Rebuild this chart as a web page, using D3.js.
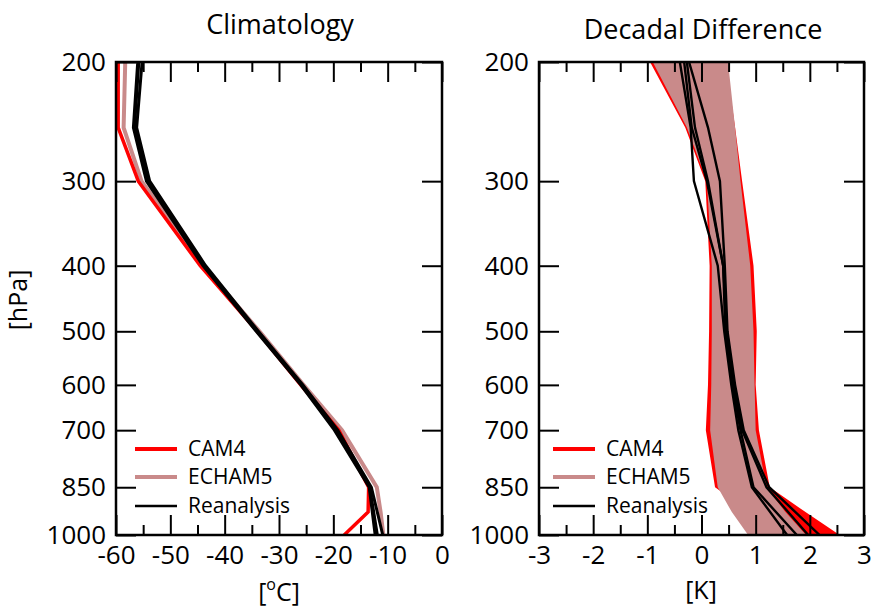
<!DOCTYPE html>
<html>
<head>
<meta charset="utf-8">
<script src="https://cdn.jsdelivr.net/npm/d3@7"></script>
<style>
  body { margin: 0; background: #fff; }
  text { font-family: "Open Sans", sans-serif; }
</style>
</head>
<body>
<script>
// pressure levels (hPa)
const levels = [200, 250, 300, 400, 500, 600, 700, 850, 925, 1000];
const reLevels = [200, 250, 300, 400, 500, 600, 700, 850, 1000];

// climatology (deg C)
const cam4Clim = [-59.6, -59.6, -55.9, -44.5, -34, -26, -19, -13.5, -13.6, -18];
const echamClim = [-58.3, -58.6, -55.3, -44, -33.6, -25.5, -18.4, -12, -11.3, -10.8];
const reClim = [
  [-55.8, -56.6, -54.2, -43.8, -34, -25.8, -19.5, -13.3, -11.9],
  [-55.2, -56.2, -53.8, -43.5, -33.8, -25.6, -19.2, -13.0, -10.9],
  [-56.0, -56.8, -54.4, -44.0, -34.2, -26.0, -19.8, -13.4, -12.3]
];

// decadal difference (K), model spread low / high
const cam4Lo = [-0.95, -0.3, 0.07, 0.15, 0.14, 0.12, 0.08, 0.25, 0.9, 1.4];
const cam4Hi = [0.45, 0.62, 0.75, 0.96, 1.02, 1.0, 1.06, 1.26, 1.92, 2.55];
const echamLo = [-0.9, -0.27, 0.1, 0.19, 0.19, 0.18, 0.16, 0.3, 0.56, 0.86];
const echamHi = [0.49, 0.62, 0.72, 0.9, 0.96, 0.98, 1.0, 1.2, 1.55, 1.93];
const reDiff = [
  [-0.4, -0.2, -0.14, 0.3, 0.42, 0.55, 0.68, 0.93, 1.58],
  [-0.32, -0.18, 0.1, 0.4, 0.44, 0.57, 0.72, 0.96, 1.76],
  [-0.27, -0.12, 0.12, 0.4, 0.47, 0.6, 0.75, 1.2, 1.97],
  [-0.23, 0.12, 0.34, 0.43, 0.48, 0.62, 0.78, 1.25, 2.18]
];

const pTicks = [200, 300, 400, 500, 600, 700, 850, 1000];
const climMajor = [-60, -50, -40, -30, -20, -10, 0];
const climMinor = [-55, -45, -35, -25, -15, -5];
const diffMajor = [-3, -2, -1, 0, 1, 2, 3];
const diffMinor = [-2.5, -1.5, -0.5, 0.5, 1.5, 2.5];

const legendNames = ["CAM4", "ECHAM5", "Reanalysis"];

const w = 872, h = 609;
const yTop = 62, yBot = 535;
const red = "#ff0000", pink = "#c98a8a";

let svg = d3.select("body").append("svg")
  .attr("width", w)
  .attr("height", h);

let y = d3.scaleLog().domain([200, 1000]).range([yTop, yBot]);

let xL = d3.scaleLinear().domain([-60, 0]).range([116, 442]);
let xR = d3.scaleLinear().domain([-3, 3]).range([539, 864]);

let defs = svg.append("defs");
[["clipL", xL], ["clipR", xR]].forEach(([id, x]) => {
  defs.append("clipPath").attr("id", id)
    .append("rect").attr("x", x.range()[0]).attr("y", yTop)
    .attr("width", x.range()[1] - x.range()[0]).attr("height", yBot - yTop);
});

function frame(x, major, minor) {
  const g = svg.append("g");
  const x0 = x.range()[0], x1 = x.range()[1];

  // bottom
  g.append("g").attr("transform", `translate(0,${yBot})`)
    .call(d3.axisBottom(x).tickValues(major).tickSize(-20).tickPadding(11)
      .tickFormat(d3.format("d")));
  g.append("g").attr("transform", `translate(0,${yBot})`)
    .call(d3.axisBottom(x).tickValues(minor).tickSize(-10).tickFormat(""));
  // top
  g.append("g").attr("transform", `translate(0,${yTop})`)
    .call(d3.axisTop(x).tickValues(major).tickSize(-20).tickFormat(""));
  g.append("g").attr("transform", `translate(0,${yTop})`)
    .call(d3.axisTop(x).tickValues(minor).tickSize(-10).tickFormat(""));
  // left / right
  g.append("g").attr("transform", `translate(${x0},0)`)
    .call(d3.axisLeft(y).tickValues(pTicks).tickSize(-20).tickPadding(10)
      .tickFormat(d3.format("d")));
  g.append("g").attr("transform", `translate(${x1},0)`)
    .call(d3.axisRight(y).tickValues(pTicks).tickSize(-20).tickFormat(""));

  g.selectAll(".domain").remove();
  g.selectAll(".tick line").attr("stroke", "#000").attr("stroke-width", 2);
  g.selectAll(".tick text")
    .attr("font-family", "Open Sans, sans-serif")
    .attr("font-size", 26)
    .attr("fill", "#000")
    .text(function() { return d3.select(this).text().replace("\u2212", "-"); });

  g.append("rect")
    .attr("x", x0).attr("y", yTop)
    .attr("width", x1 - x0).attr("height", yBot - yTop)
    .attr("fill", "none").attr("stroke", "#000").attr("stroke-width", 2.5);
  return g;
}

// ---- left panel: climatology
let gL = svg.append("g").attr("clip-path", "url(#clipL)");
let lineL = d3.line().x(d => xL(d[0])).y(d => y(d[1]));

gL.append("path")
  .attr("d", lineL(d3.zip(echamClim, levels)))
  .attr("fill", "none").attr("stroke", pink).attr("stroke-width", 4);
gL.append("path")
  .attr("d", lineL(d3.zip(cam4Clim, levels)))
  .attr("fill", "none").attr("stroke", red).attr("stroke-width", 3.5);
gL.selectAll(".re")
  .data(reClim)
  .enter().append("path")
  .attr("d", d => lineL(d3.zip(d, reLevels)))
  .attr("fill", "none").attr("stroke", "#000").attr("stroke-width", 3);

// ---- right panel: decadal difference
let gR = svg.append("g").attr("clip-path", "url(#clipR)");
let band = (lo, hi) => d3.area()
  .x0((d, i) => xR(lo[i])).x1((d, i) => xR(hi[i]))
  .y(d => y(d))(levels);

gR.append("path").attr("d", band(cam4Lo, cam4Hi)).attr("fill", red);
gR.append("path").attr("d", band(echamLo, echamHi)).attr("fill", pink);

let lineR = d3.line().x(d => xR(d[0])).y(d => y(d[1]));
gR.selectAll(".re")
  .data(reDiff)
  .enter().append("path")
  .attr("d", d => lineR(d3.zip(d, reLevels)))
  .attr("fill", "none").attr("stroke", "#000").attr("stroke-width", 2.4);

frame(xL, climMajor, climMinor);
frame(xR, diffMajor, diffMinor);

// legends
function legend(x0, widths) {
  const colors = [red, pink, "#000"];
  const rows = [449, 477, 506];
  legendNames.forEach((name, i) => {
    svg.append("line")
      .attr("x1", x0).attr("x2", x0 + 42)
      .attr("y1", rows[i]).attr("y2", rows[i])
      .attr("stroke", colors[i]).attr("stroke-width", widths[i]);
    svg.append("text")
      .attr("x", x0 + 53).attr("y", rows[i] + 7)
      .attr("font-size", 21)
      .text(name);
  });
}
legend(135, [4, 4, 2.5]);
legend(553, [4, 4, 2.5]);

// titles and axis labels
svg.append("text").attr("x", 280).attr("y", 34)
  .attr("text-anchor", "middle").attr("font-size", 27).text("Climatology");
svg.append("text").attr("x", 703).attr("y", 39)
  .attr("text-anchor", "middle").attr("font-size", 27).text("Decadal Difference");

let cl = svg.append("text").attr("x", 279).attr("y", 601)
  .attr("text-anchor", "middle").attr("font-size", 25);
cl.append("tspan").text("[");
cl.append("tspan").attr("font-size", 16).attr("dy", -11).text("o");
cl.append("tspan").attr("dy", 11).text("C]");

svg.append("text").attr("x", 701).attr("y", 599)
  .attr("text-anchor", "middle").attr("font-size", 25).text("[K]");

svg.append("text")
  .attr("transform", "translate(27,300) rotate(-90)")
  .attr("text-anchor", "middle").attr("font-size", 25).text("[hPa]");
</script>
</body>
</html>
